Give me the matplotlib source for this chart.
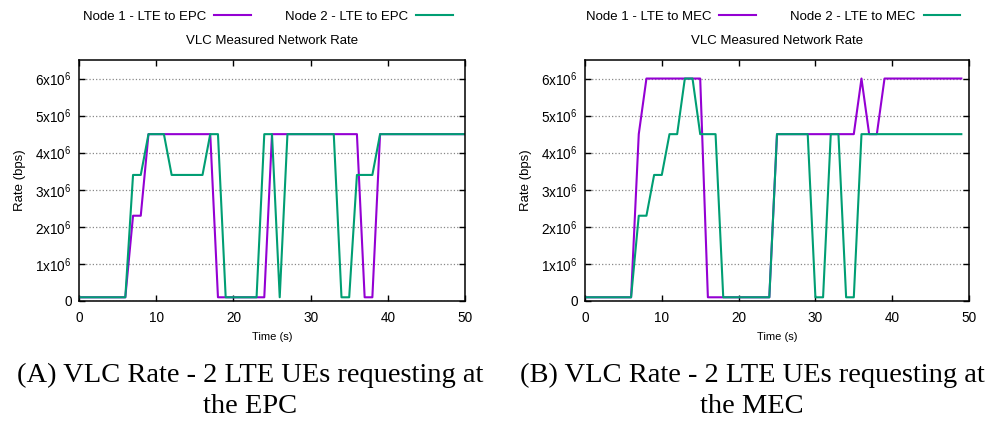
import numpy as np
import matplotlib
matplotlib.use("Agg")
import matplotlib.pyplot as plt
from matplotlib.ticker import FuncFormatter, MultipleLocator

plt.rcParams['font.family'] = ['Liberation Sans', 'DejaVu Sans']
plt.rcParams['mathtext.fontset'] = 'custom'
plt.rcParams['mathtext.rm'] = 'Liberation Sans'
plt.rcParams['mathtext.it'] = 'Liberation Sans'

# measured rates in Mbps, one sample per second
time_epc = list(range(0, 51))
node1_epc = [0.1] * 7 + [2.3] * 2 + [4.5] * 9 + [0.1] * 7 + [4.5] * 12 + [0.1] * 2 + [4.5] * 12
node2_epc = ([0.1] * 7 + [3.4] * 2 + [4.5] * 3 + [3.4] * 5 + [4.5] * 2 + [0.1] * 5
             + [4.5] * 2 + [0.1] + [4.5] * 7 + [0.1] * 2 + [3.4] * 3 + [4.5] * 12)

time_mec = list(range(0, 50))
node1_mec = [0.1] * 7 + [4.5] + [6.0] * 8 + [0.1] * 9 + [4.5] * 11 + [6.0] + [4.5] * 2 + [6.0] * 11
node2_mec = ([0.1] * 7 + [2.3] * 2 + [3.4] * 2 + [4.5] * 2 + [6.0] * 2 + [4.5] * 3 + [0.1] * 7
             + [4.5] * 5 + [0.1] * 2 + [4.5] * 2 + [0.1] * 2 + [4.5] * 14)

panels = [
    (time_epc, node1_epc, node2_epc, "EPC", "(A) VLC Rate - 2 LTE UEs requesting at\nthe EPC"),
    (time_mec, node1_mec, node2_mec, "MEC", "(B) VLC Rate - 2 LTE UEs requesting at\nthe MEC"),
]

purple = "#9400D3"
green = "#009E73"

W, H = 997, 422
fig = plt.figure(figsize=(W / 100, H / 100), dpi=100)

# pixel boxes of the two plot areas (left, right)
boxes = [(79, 465), (585, 969)]
caption_x = [250, 752]
top, bottom = 60, 301


def rate_fmt(v, pos):
    if v == 0:
        return "0"
    return "%dx10$^{6}$" % round(v / 1e6)


for i, (t, n1, n2, target, caption) in enumerate(panels):
    left, right = boxes[i]
    ax = fig.add_axes([left / W, 1 - bottom / H, (right - left) / W, (bottom - top) / H])
    ax.plot(t, np.array(n1) * 1e6, color=purple, lw=1.5, label="Node 1 - LTE to " + target)
    ax.plot(t, np.array(n2) * 1e6, color=green, lw=1.5, label="Node 2 - LTE to " + target)

    ax.set_xlim(0, 50)
    ax.set_ylim(0, 6.5e6)
    ax.xaxis.set_major_locator(MultipleLocator(10))
    ax.yaxis.set_major_locator(MultipleLocator(1e6))
    ax.yaxis.set_major_formatter(FuncFormatter(rate_fmt))
    ax.tick_params(direction='in', top=True, right=True, length=4, width=1,
                   labelsize=9.8, pad=5)
    ax.tick_params(axis='x', pad=7)
    ax.grid(axis='y', linestyle=':', color='#888888', linewidth=0.9)
    for s in ax.spines.values():
        s.set_linewidth(1.1)

    ax.set_xlabel("Time (s)", fontsize=8, labelpad=5)
    ax.set_ylabel("Rate (bps)", fontsize=9.5, labelpad=7)

    cx = (left + right) / 2 / W
    ax.legend(loc='center', bbox_to_anchor=(cx - 0.004, 1 - 17 / H), bbox_transform=fig.transFigure,
              ncol=2, markerfirst=False, frameon=False, fontsize=9.5,
              handlelength=2.8, handletextpad=0.6, columnspacing=2.6)
    fig.text(cx, 1 - 41 / H, "VLC Measured Network Rate", ha='center', va='center', fontsize=9.5)

    fig.text(caption_x[i] / W, 1 - 391 / H, caption, ha='center', va='center',
             fontsize=20.5, family='Liberation Serif', linespacing=1.3)

fig.savefig("out.png", dpi=100)
